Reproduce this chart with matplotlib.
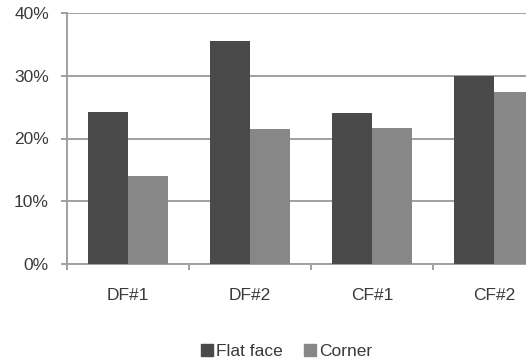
import matplotlib
matplotlib.use("Agg")
import matplotlib.pyplot as plt
import numpy as np
from matplotlib.patches import Patch
from matplotlib.ticker import PercentFormatter

categories = ["DF#1", "DF#2", "CF#1", "CF#2"]
flat_face = [24.2, 35.6, 24.1, 30.0]
corner = [14.1, 21.5, 21.7, 27.4]
series_names = ["Flat face", "Corner"]
y_ticks = [0, 10, 20, 30, 40]

FLAT_COLOR = "#4a4a4a"
CORNER_COLOR = "#878787"
GRID_COLOR = "#a0a0a0"
TEXT_COLOR = "#3a3a3a"

plt.rcParams["font.family"] = ["Liberation Sans", "DejaVu Sans"]

fig = plt.figure(figsize=(5.26, 3.59), dpi=100)
W, H = 526, 359
left, right, bottom, top = 67, 555, 264, 13
ax = fig.add_axes([left / W, 1 - bottom / H, (right - left) / W, (bottom - top) / H])

x = np.arange(len(categories))
bw = 0.328
ax.bar(x - bw / 2, flat_face, bw, color=FLAT_COLOR, zorder=3)
ax.bar(x + bw / 2, corner, bw, color=CORNER_COLOR, zorder=3)

ax.set_xlim(-0.5, len(categories) - 0.5)
ax.set_ylim(0, 40)
ax.set_yticks(y_ticks)
ax.yaxis.set_major_formatter(PercentFormatter(decimals=0))
ax.set_xticks(x)
ax.set_xticklabels(categories)
ax.set_xticks(np.arange(len(categories) + 1) - 0.5, minor=True)

ax.grid(axis="y", color=GRID_COLOR, linewidth=1.4, zorder=0)
for side in ["top", "right"]:
    ax.spines[side].set_visible(False)
for side in ["left", "bottom"]:
    ax.spines[side].set_color(GRID_COLOR)
    ax.spines[side].set_linewidth(1.4)

ax.tick_params(axis="y", length=4, width=1.4, color=GRID_COLOR, pad=9,
               labelsize=12.5, labelcolor=TEXT_COLOR)
ax.tick_params(axis="x", which="major", length=0, pad=17,
               labelsize=12.5, labelcolor=TEXT_COLOR)
ax.tick_params(axis="x", which="minor", length=4, width=1.4, color=GRID_COLOR)

handles = [Patch(color=FLAT_COLOR), Patch(color=CORNER_COLOR)]
fig.legend(handles, series_names, loc="center", bbox_to_anchor=(0.545, 0.022),
           ncol=2, frameon=False, fontsize=12.5, handlelength=0.7, handleheight=0.7,
           handletextpad=0.2, columnspacing=1.2, labelcolor=TEXT_COLOR)

fig.savefig("out.png", dpi=100)
